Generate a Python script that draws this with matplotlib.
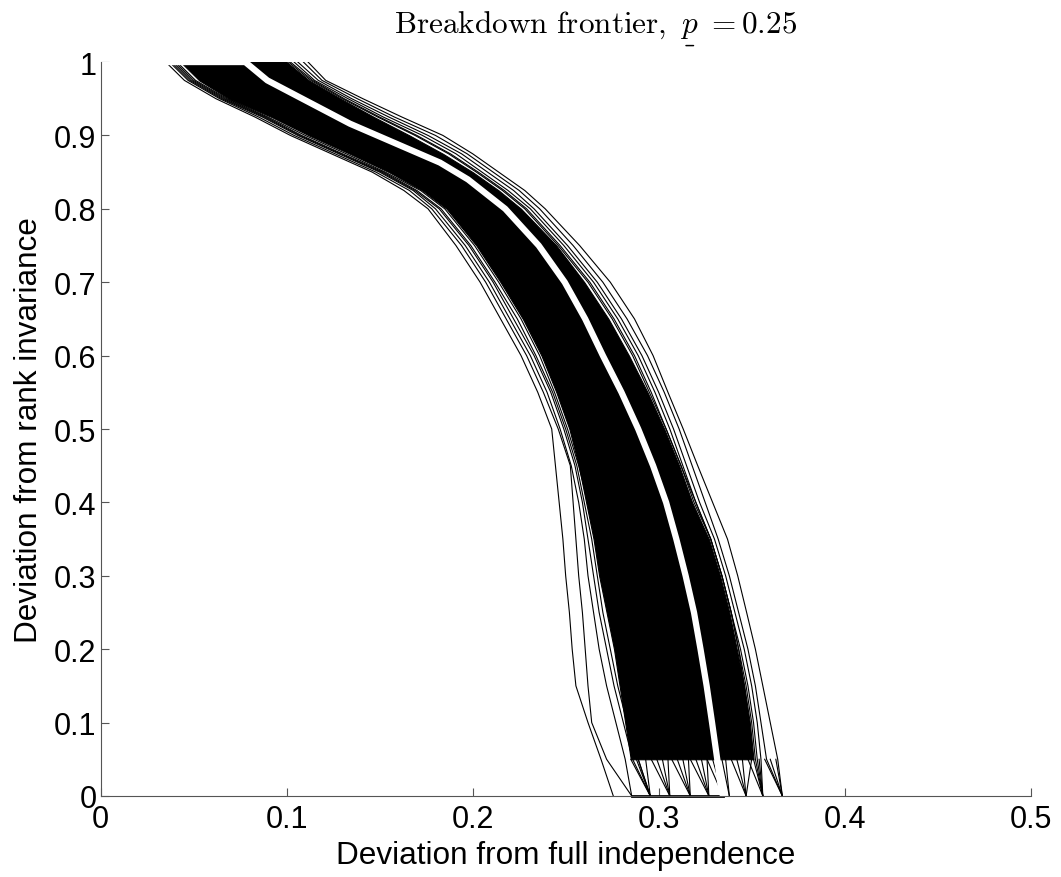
"""Breakdown frontier with bootstrap draws (p = 0.25)."""

from matplotlib import pyplot

# common y grid for the band edges and the individual draws
y_grid = [1.0, 0.975, 0.95, 0.925, 0.9, 0.875, 0.85, 0.825, 0.8, 0.75, 0.7, 0.65,
          0.6, 0.55, 0.5, 0.45, 0.4, 0.35, 0.3, 0.25, 0.2, 0.15, 0.1, 0.05, 0.0]

# edges of the dense (solid black) part of the bootstrap band
band_left = [0.043, 0.053, 0.069, 0.092, 0.112, 0.134, 0.155, 0.173, 0.186, 0.202,
             0.215, 0.227, 0.237, 0.245, 0.252, 0.257, 0.261, 0.265, 0.268, 0.272,
             0.276, 0.279, 0.282, 0.285, 0.288]
band_right = [0.100, 0.112, 0.129, 0.147, 0.166, 0.184, 0.200, 0.214, 0.226, 0.245,
              0.260, 0.273, 0.284, 0.294, 0.303, 0.311, 0.318, 0.327, 0.333, 0.338,
              0.342, 0.346, 0.349, 0.351, 0.352]

# sparse draws outside the dense band (x values on y_grid)
draws_left = [
    [0.035, 0.045, 0.062, 0.083, 0.102, 0.124, 0.146, 0.163, 0.176, 0.191, 0.204, 0.215, 0.226,
     0.235, 0.2425, 0.2445, 0.2465, 0.2485, 0.250, 0.252, 0.2535, 0.2555, 0.262, 0.269, 0.2756],
    [0.037, 0.047, 0.064, 0.085, 0.104, 0.126, 0.148, 0.166, 0.178, 0.194, 0.207, 0.218, 0.229,
     0.238, 0.246, 0.2525, 0.254, 0.2555, 0.257, 0.259, 0.2605, 0.262, 0.264, 0.272, 0.2855],
    [0.038, 0.048, 0.065, 0.087, 0.106, 0.128, 0.150, 0.168, 0.180, 0.196, 0.209, 0.220, 0.231,
     0.240, 0.247, 0.253, 0.257, 0.260, 0.262, 0.265, 0.268, 0.272, 0.277, 0.282, 0.2855],
    [0.039, 0.049, 0.066, 0.088, 0.107, 0.129, 0.151, 0.169, 0.182, 0.198, 0.211, 0.222, 0.233,
     0.242, 0.249, 0.255, 0.259, 0.262, 0.265, 0.268, 0.272, 0.276, 0.281, 0.286, 0.2955],
    [0.040, 0.050, 0.067, 0.089, 0.108, 0.130, 0.152, 0.170, 0.183, 0.199, 0.212, 0.224, 0.234,
     0.243, 0.250, 0.256, 0.260, 0.264, 0.267, 0.270, 0.274, 0.278, 0.283, 0.288, 0.2955],
    [0.041, 0.051, 0.068, 0.090, 0.110, 0.132, 0.153, 0.172, 0.185, 0.201, 0.214, 0.226, 0.236,
     0.244, 0.251, 0.257, 0.262, 0.266, 0.270, 0.274, 0.278, 0.281, 0.285, 0.289, 0.2955],
]
draws_right = [
    [0.1115, 0.121, 0.141, 0.162, 0.184, 0.200, 0.214, 0.228, 0.239, 0.2575, 0.274, 0.287, 0.297,
     0.305, 0.3132, 0.321, 0.329, 0.337, 0.3425, 0.3473, 0.352, 0.356, 0.360, 0.364, 0.3665],
    [0.109, 0.119, 0.138, 0.158, 0.180, 0.197, 0.211, 0.225, 0.236, 0.254, 0.270, 0.283, 0.294,
     0.303, 0.311, 0.318, 0.325, 0.332, 0.338, 0.343, 0.348, 0.352, 0.355, 0.358, 0.3665],
    [0.106, 0.117, 0.135, 0.155, 0.176, 0.194, 0.208, 0.222, 0.233, 0.251, 0.267, 0.280, 0.291,
     0.300, 0.308, 0.315, 0.322, 0.330, 0.336, 0.341, 0.346, 0.350, 0.353, 0.355, 0.356],
    [0.104, 0.115, 0.133, 0.152, 0.173, 0.191, 0.205, 0.219, 0.231, 0.249, 0.265, 0.278, 0.289,
     0.298, 0.306, 0.313, 0.320, 0.328, 0.334, 0.339, 0.344, 0.348, 0.351, 0.353, 0.356],
    [0.102, 0.114, 0.131, 0.150, 0.170, 0.188, 0.203, 0.217, 0.229, 0.247, 0.263, 0.276, 0.287,
     0.296, 0.304, 0.312, 0.319, 0.328, 0.334, 0.339, 0.343, 0.347, 0.350, 0.352, 0.356],
    [0.101, 0.113, 0.130, 0.149, 0.169, 0.187, 0.202, 0.216, 0.228, 0.246, 0.262, 0.275, 0.286,
     0.295, 0.304, 0.312, 0.320, 0.328, 0.334, 0.339, 0.343, 0.346, 0.348, 0.350, 0.347],
]

# draws fanning into the x axis below y = 0.05
fan_start_x = [0.285, 0.289, 0.293, 0.296, 0.299, 0.302, 0.305, 0.307, 0.310, 0.313, 0.316,
               0.317, 0.320, 0.323, 0.326, 0.326, 0.329, 0.332, 0.334, 0.336,
               0.339, 0.342, 0.345, 0.348, 0.351, 0.354, 0.357, 0.360, 0.363]
fan_end_x = [0.2955, 0.2955, 0.2955, 0.306, 0.306, 0.306, 0.306, 0.317, 0.317, 0.317, 0.317,
             0.327, 0.327, 0.327, 0.327, 0.3346, 0.3346, 0.3346, 0.338, 0.338,
             0.347, 0.347, 0.347, 0.356, 0.356, 0.356, 0.3665, 0.3665, 0.3665]
fan_top_y = 0.05

# point estimate of the frontier (white line)
median_x = [0.0, 0.0777, 0.0896, 0.134, 0.1824, 0.1975, 0.2175, 0.2355, 0.2495, 0.2605,
            0.270, 0.280, 0.289, 0.297, 0.304, 0.3095, 0.3145, 0.319, 0.3225, 0.3258,
            0.3287, 0.3315, 0.3335, 0.3346]
median_y = [1.0, 1.0, 0.975, 0.916, 0.863, 0.84, 0.8, 0.75, 0.7, 0.65,
            0.6, 0.55, 0.5, 0.45, 0.4, 0.35, 0.3, 0.25, 0.2, 0.15,
            0.1, 0.05, 0.01, 0.0]

xticks = [0, 0.1, 0.2, 0.3, 0.4, 0.5]
xticklabels = ['0', '0.1', '0.2', '0.3', '0.4', '0.5']
yticks = [0, 0.1, 0.2, 0.3, 0.4, 0.5, 0.6, 0.7, 0.8, 0.9, 1.0]
yticklabels = ['0', '0.1', '0.2', '0.3', '0.4', '0.5', '0.6', '0.7', '0.8', '0.9', '1']

pyplot.rc('font', family='Liberation Sans', size=22)
pyplot.rc('mathtext', fontset='cm')
fig = pyplot.figure(figsize=(10.61, 8.78), dpi=100)
ax = fig.add_axes([0.0949, 0.0923, 0.8765, 0.8359])

n = len(y_grid) - 1
ax.fill_betweenx(y_grid[:n], band_left[:n], band_right[:n],
                 color='black', linewidth=0.8)
for xs in draws_left + draws_right:
    ax.plot(xs, y_grid, color='black', linewidth=0.8)
for x0, x1 in zip(fan_start_x, fan_end_x):
    ax.plot([x0, x1], [fan_top_y, 0.0], color='black', linewidth=0.8)
ax.plot([draws_left[1][-1], median_x[-1]], [0.0, 0.0], color='black',
        linewidth=2.0, clip_on=False)
ax.plot(median_x, median_y, color='white', linewidth=4.5)

ax.set_xlim(0, 0.5)
ax.set_ylim(0, 1)
ax.set_xticks(xticks)
ax.set_xticklabels(xticklabels)
ax.set_yticks(yticks)
ax.set_yticklabels(yticklabels)
ax.tick_params(direction='in', length=6, width=0.8, color='#555555')
ax.tick_params(axis='x', pad=6)
ax.tick_params(axis='y', pad=3)
for side in ['top', 'right']:
    ax.spines[side].set_visible(False)
for side in ['left', 'bottom']:
    ax.spines[side].set_color('#555555')
    ax.spines[side].set_linewidth(0.8)

ax.set_xlabel('Deviation from full independence', fontsize=22.7, labelpad=4)
ax.set_ylabel('Deviation from rank invariance', fontsize=22.7, labelpad=7)
ax.set_title(r'$\mathrm{Breakdown\ frontier,}\ \underset{\_}{p}\ \mathrm{=0.25}$',
             fontsize=22.5, x=0.5326, pad=21)

fig.savefig('out.png', dpi=100)
